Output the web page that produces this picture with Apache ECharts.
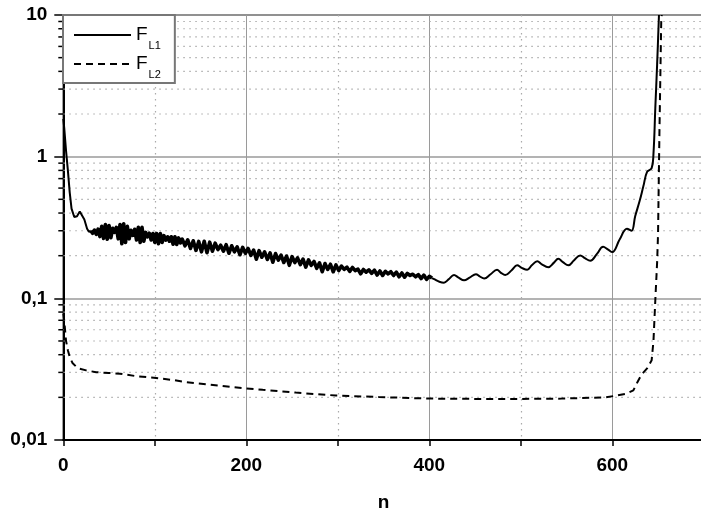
<!DOCTYPE html>
<html>
<head>
<meta charset="utf-8">
<script src="https://cdn.jsdelivr.net/npm/echarts@6/dist/echarts.min.js"></script>
<style>
html,body{margin:0;padding:0;background:#fff;}
#chart{width:701px;height:514px;}
</style>
</head>
<body>
<div id="chart"></div>
<script>
// ---- data ----
const xTickLabels = [0, 200, 400, 600];
const yTickLabels = ['0,01', '0,1', '1', '10'];
const minorYTicks = [0.02,0.03,0.04,0.05,0.06,0.07,0.08,0.09,
                     0.2,0.3,0.4,0.5,0.6,0.7,0.8,0.9,
                     2,3,4,5,6,7,8,9];
const seriesNames = ['FL1', 'FL2'];

// F_L1: initial drop
const fl1Head = [
 [0,1.85],[1,1.6],[3,1.1],[5,0.8],[7,0.56],[9,0.43],[12,0.375],[15,0.38],[18,0.41],[20,0.405],[23,0.36],[26,0.31],[28,0.295],[30,0.30]
];
// F_L1: dense oscillating band
const fl1Band = [
 [30,0.30],[32,0.288],[34,0.303],[36,0.283],[38,0.308],[40,0.273],[42,0.322],[44,0.265],[46,0.332],[48,0.261],[50,0.327],[52,0.268],
 [54,0.312],[56,0.292],[58,0.317],[60,0.263],[62,0.332],[64,0.243],[66,0.336],[68,0.248],[70,0.322],[72,0.263],[74,0.302],[76,0.278],
 [78,0.307],[80,0.258],[82,0.317],[84,0.248],[86,0.317],[88,0.253],[90,0.292],[92,0.272],[94,0.288],[96,0.258],[98,0.287],
 [100,0.248],[102,0.287],[104,0.243],[106,0.287],[108,0.248],[110,0.277],[112,0.258],[114,0.272],[116,0.253],[118,0.272],
 [120,0.241],[122,0.272],[124,0.24],[126,0.267],[128,0.246],
 [130,0.262],[133,0.235],[136,0.259],[139,0.225],[142,0.255],[145,0.218],[148,0.252],[151,0.213],[154,0.253],[157,0.21],
 [160,0.249],[163,0.215],[166,0.245],[169,0.221],[172,0.237],[175,0.215],[178,0.239],[181,0.208],[184,0.235],[187,0.213],
 [190,0.231],[193,0.203],[196,0.229],[199,0.208],[202,0.225],[205,0.201],[208,0.219],[211,0.189],[214,0.217],[217,0.195],
 [220,0.213],[223,0.188],[226,0.209],[229,0.18],[232,0.207],[235,0.186],[238,0.202],[241,0.179],[244,0.199],[247,0.171],
 [250,0.197],[253,0.179],[256,0.193],[259,0.173],[262,0.189],[265,0.166],[268,0.187],[271,0.171],[274,0.182],[277,0.163],
 [280,0.178],[283,0.154],[286,0.176],[289,0.16],[292,0.174],[295,0.154],[298,0.172],[301,0.157],[304,0.169],[307,0.16],
 [310,0.166],[313,0.155],[316,0.165],[319,0.157],[322,0.161],[325,0.149],[328,0.16],[331,0.153],[334,0.159],[337,0.15],
 [340,0.158],[343,0.146],[346,0.156],[349,0.145],[352,0.155],[355,0.149],[358,0.154],[361,0.145],[364,0.153],[367,0.142],
 [370,0.151],[373,0.141],[376,0.15],[379,0.145],[382,0.148],[385,0.142],[388,0.147],[391,0.138],[394,0.146],[397,0.136],
 [400,0.143],[403,0.139]
];
// F_L1: smooth oscillation and final rise
const fl1Tail = [
 [403,0.139],[406,0.136],[411,0.131],[416,0.129],[421,0.136],[427,0.146],[432,0.14],[438,0.134],[444,0.14],
 [451,0.148],[455,0.143],[460,0.138],[467,0.148],[474,0.159],[478,0.152],[483,0.146],[490,0.158],[496,0.171],[501,0.164],
 [507,0.159],[512,0.171],[518,0.183],[523,0.174],[530,0.166],[536,0.178],[541,0.19],[546,0.18],[552,0.171],[558,0.185],
 [565,0.201],[570,0.192],[576,0.184],[583,0.205],[590,0.231],[595,0.222],[600,0.212],[608,0.26],[616,0.31],[621,0.30],
 [625,0.38],[630,0.49],[634,0.62],[638,0.78],[643,0.83],[645,1.05],[647,2.2],[649,4.5],[651,10]
];

const fl2 = [
 [0,0.078],[1,0.07],[3,0.05],[5,0.043],[7,0.0385],[10,0.035],[14,0.033],[18,0.0318],[25,0.031],[36,0.0301],[50,0.0297],
 [62,0.0294],[80,0.0282],[99,0.0275],[120,0.0265],[135,0.0256],[160,0.0246],[185,0.0236],[218,0.0226],[254,0.0216],
 [298,0.0206],[345,0.0201],[400,0.0196],[450,0.0195],[500,0.0195],[545,0.0196],[592,0.0200],[603,0.0205],[615,0.0212],
 [623,0.0224],[628,0.026],[632,0.029],[638,0.032],[643,0.0365],[645,0.05],[647,0.097],[649,0.18],[650,0.286],
 [651.5,1.46],[653.5,9.2],[654,10]
];

const X_MIN = 0, X_MAX = 700, Y_MIN = 0.01, Y_MAX = 10;
const FONT = "'Liberation Sans', Arial, sans-serif";

const lineBase = {type: 'line', symbol: 'none', showSymbol: false, z: 5, itemStyle: {color: '#000'}};

const chart = echarts.init(document.getElementById('chart'), null, {renderer: 'canvas'});
chart.setOption({
  animation: false,
  backgroundColor: '#fff',
  grid: {left: 63.3, width: 640.5, top: 15, bottom: 74, outerBoundsMode: 'none', containLabel: false,
         show: true, borderColor: '#777', borderWidth: 2, backgroundColor: 'transparent'},
  legend: {
    data: seriesNames,
    orient: 'vertical',
    left: 63, top: 15,
    itemWidth: 57, itemHeight: 14, itemGap: 3,
    padding: [10, 14, 3, 10],
    backgroundColor: '#fff',
    borderColor: '#777', borderWidth: 2,
    itemStyle: {opacity: 0},
    formatter: name => '{f|F}{s|' + name.slice(1) + '}',
    textStyle: {
      fontFamily: FONT, color: '#000',
      rich: {
        f: {fontFamily: FONT, fontSize: 19, color: '#000', lineHeight: 20, verticalAlign: 'top'},
        s: {fontFamily: FONT, fontSize: 11, color: '#000', lineHeight: 12, verticalAlign: 'top', padding: [15, 0, 0, 1]}
      }
    },
    z: 20
  },
  xAxis: [
    {
      type: 'value', min: X_MIN, max: X_MAX, interval: 200, position: 'bottom',
      axisLine: {show: true, onZero: false, lineStyle: {color: '#000', width: 2}},
      axisTick: {show: true, length: 6, lineStyle: {color: '#000', width: 1.5}},
      axisLabel: {
        fontFamily: FONT, fontSize: 19, fontWeight: 'bold', color: '#000', margin: 16,
        formatter: v => (xTickLabels.indexOf(v) >= 0 ? String(v) : '')
      },
      splitLine: {show: true, lineStyle: {color: '#9a9a9a', width: 1}},
      name: 'n', nameLocation: 'middle', nameGap: 53,
      nameTextStyle: {fontFamily: FONT, fontSize: 19, fontWeight: 'bold', color: '#000'}
    },
    {
      type: 'value', min: X_MIN, max: X_MAX, interval: 100, position: 'bottom',
      axisLine: {show: false},
      axisTick: {show: true, length: 6, lineStyle: {color: '#000', width: 1.5}},
      axisLabel: {show: false},
      splitLine: {show: true, lineStyle: {color: ['transparent', '#aaa'], width: 1.2, type: [1.5, 4.5]}}
    }
  ],
  yAxis: {
    type: 'log', logBase: 10, min: Y_MIN, max: Y_MAX,
    axisLine: {show: true, onZero: false, lineStyle: {color: '#000', width: 2}},
    axisTick: {show: true, length: 9, lineStyle: {color: '#000', width: 1.5}},
    axisLabel: {
      fontFamily: FONT, fontSize: 19, fontWeight: 'bold', color: '#000', margin: 16,
      formatter: v => {
        const s = String(+v.toPrecision(6)).replace('.', ',');
        return yTickLabels.indexOf(s) >= 0 ? s : '';
      }
    },
    splitLine: {show: true, lineStyle: {color: '#9a9a9a', width: 1.5}}
  },
  series: [
    {
      type: 'custom', name: 'minorY', xAxisIndex: 0, yAxisIndex: 0, z: 1, silent: true,
      data: minorYTicks.map(v => [X_MIN, v]),
      encode: {x: 0, y: 1},
      clip: false,
      renderItem: (params, api) => {
        const v = api.value(1);
        const a = api.coord([X_MIN, v]);
        const b = api.coord([X_MAX, v]);
        return {
          type: 'group',
          children: [
            {type: 'line', shape: {x1: a[0], y1: a[1], x2: b[0], y2: b[1]},
             style: {stroke: '#aaa', lineWidth: 1.2, lineDash: [1.5, 4.5]}},
            {type: 'line', shape: {x1: a[0] - 5, y1: a[1], x2: a[0], y2: a[1]},
             style: {stroke: '#000', lineWidth: 1.5}}
          ]
        };
      }
    },
    Object.assign({}, lineBase, {name: seriesNames[0], data: fl1Head, lineStyle: {color: '#000', width: 2}}),
    Object.assign({}, lineBase, {name: seriesNames[0], data: fl1Band, lineStyle: {color: '#000', width: 3.6, join: 'round'}}),
    Object.assign({}, lineBase, {name: seriesNames[0], data: fl1Tail, smooth: 0.4, lineStyle: {color: '#000', width: 2}}),
    Object.assign({}, lineBase, {name: seriesNames[1], data: fl2, lineStyle: {color: '#000', width: 2, type: [7, 5]}})
  ]
});
</script>
</body>
</html>
